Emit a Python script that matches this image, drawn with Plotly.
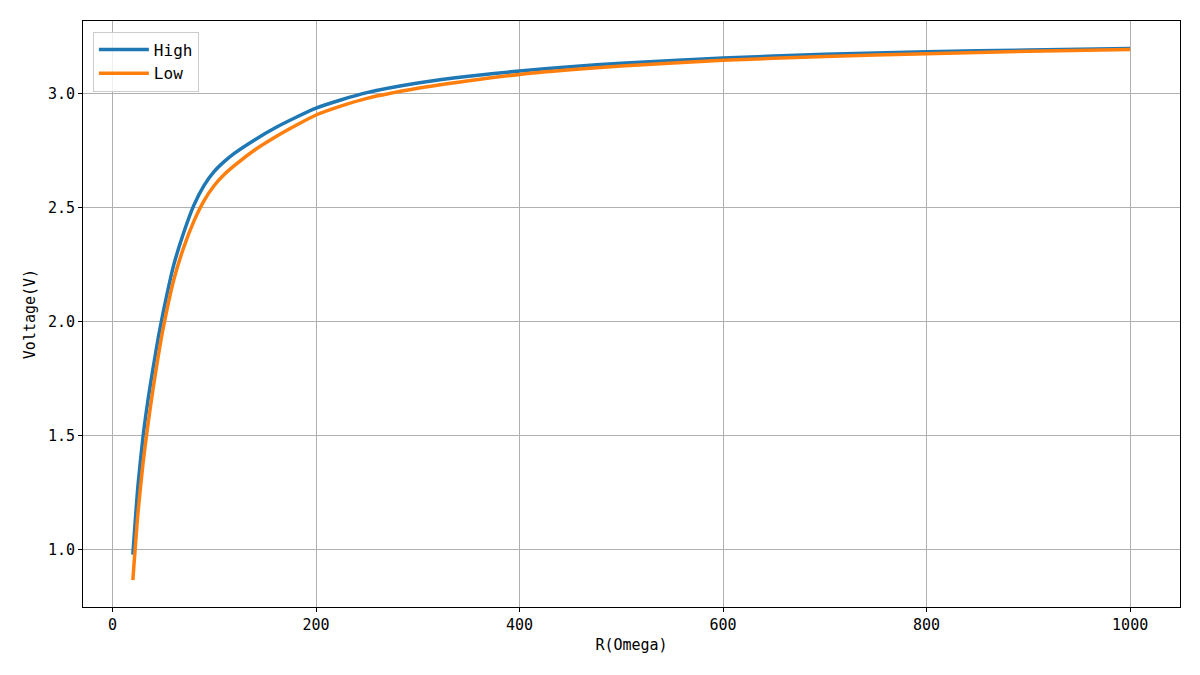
import plotly.graph_objects as go

R = [20, 25, 30, 35, 40, 45, 50, 60, 70, 80, 90, 100, 110, 120, 140, 160, 180,
     200, 225, 250, 300, 350, 400, 450, 500, 600, 700, 800, 900, 1000]
high = [0.978, 1.28, 1.495, 1.66, 1.80, 1.93, 2.045, 2.245, 2.39, 2.51, 2.597,
        2.658, 2.702, 2.738, 2.797, 2.849, 2.894, 2.935, 2.972, 3.003, 3.045,
        3.075, 3.098, 3.117, 3.132, 3.155, 3.171, 3.182, 3.190, 3.197]
low = [0.867, 1.16, 1.38, 1.555, 1.71, 1.85, 1.975, 2.18, 2.325, 2.44, 2.53,
       2.596, 2.645, 2.684, 2.753, 2.809, 2.859, 2.905, 2.945, 2.978, 3.022,
       3.055, 3.083, 3.103, 3.12, 3.145, 3.161, 3.174, 3.184, 3.192]

FONT = "DejaVu Sans Mono, Liberation Mono, monospace"

fig = go.Figure()
fig.add_trace(go.Scatter(x=R, y=high, mode="lines", name="High",
                         line=dict(color="#1f77b4", width=3.5, shape="spline",
                                   smoothing=0.6)))
fig.add_trace(go.Scatter(x=R, y=low, mode="lines", name="Low",
                         line=dict(color="#ff7f0e", width=3.5, shape="spline",
                                   smoothing=0.6)))

axis_common = dict(showline=True, linecolor="black", linewidth=1, mirror=True,
                   showgrid=True, gridcolor="#b0b0b0", gridwidth=1,
                   ticks="outside", ticklen=4, tickcolor="black",
                   tickfont=dict(size=15, color="black", family=FONT),
                   zeroline=False)

fig.update_layout(
    width=1192, height=667,
    paper_bgcolor="white", plot_bgcolor="white",
    margin=dict(l=75, r=20, t=13, b=68),
    font=dict(family=FONT, size=15, color="black"),
    xaxis=dict(range=[-29, 1049], tickvals=[0, 200, 400, 600, 800, 1000],
               title=dict(text="R(Omega)", font=dict(size=15), standoff=6),
               **axis_common),
    yaxis=dict(range=[0.749, 3.317], tickvals=[1.0, 1.5, 2.0, 2.5, 3.0],
               tickformat=".1f",
               title=dict(text="Voltage(V)", font=dict(size=15), standoff=8),
               **axis_common),
    legend=dict(x=0.009, y=0.982, xanchor="left", yanchor="top",
                bgcolor="rgba(255,255,255,0.8)", bordercolor="#cccccc",
                borderwidth=1, font=dict(size=16, family=FONT),
                itemwidth=50, tracegroupgap=2),
    showlegend=True,
)

fig.write_html("out.html")
